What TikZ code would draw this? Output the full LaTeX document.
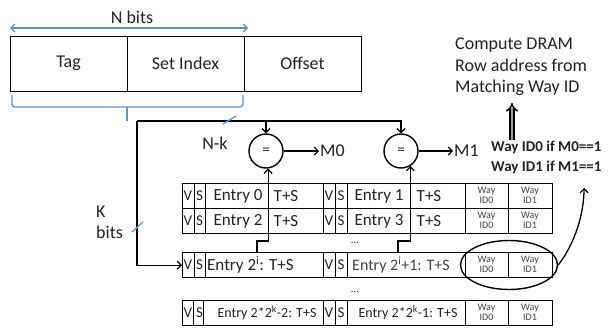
\documentclass[tikz,border=0pt]{standalone}
\usepackage{fontspec}
\setmainfont{Carlito}
\usetikzlibrary{arrows.meta,shapes.geometric}
\definecolor{bblue}{RGB}{91,150,205}
\definecolor{ink}{RGB}{35,35,35}
\newcommand{\fs}[1]{\fontsize{#1}{#1}\selectfont}
\newcommand{\fsl}[2]{\fontsize{#1}{#2}\selectfont}
\tikzset{
  every node/.style={text=ink},
  ln/.style={line width=1.3pt, draw=black},
  arr/.style={ln, -{Straight Barb[length=4pt,width=8pt,line width=1.2pt]}},
  cell/.style={draw=black, line width=1.3pt, anchor=north west, inner sep=0pt, minimum height=25pt},
  fld/.style={draw=black, line width=1.4pt, anchor=north west, inner sep=0pt, minimum height=55pt},
  cmp/.style={circle, draw=black, line width=1.4pt, minimum size=34pt, inner sep=0pt, font=\fs{15}},
  lbl/.style={inner sep=1pt, font=\fs{18}},
  etxt/.style={inner sep=0pt, font=\fs{17}},
  vs/.style={inner sep=0pt, font=\fs{15}},
  wtxt/.style={inner sep=0pt, align=center, font=\fsl{10}{10}, text=ink!85},
  blu/.style={draw=bblue, line width=1.3pt},
}
\begin{document}
\begin{tikzpicture}[x=1pt,y=-1pt]
\useasboundingbox (0,0) rectangle (608,327);

% address fields
\node[fld, minimum width=117pt] (tag) at (10,36) {};
\node[fld, minimum width=117pt] (set) at (127,36) {};
\node[fld, minimum width=117pt] (off) at (244,36) {};
\node[lbl] (tagt) at (68.5,63) {Tag};
\node[lbl] (sett) at (185.5,63) {Set Index};
\node[lbl] (offt) at (302.5,63) {Offset};

% N bits
\coordinate (nbl) at (10,28);
\coordinate (nbr) at (248,28);
\draw[blu, {Straight Barb[length=4pt,width=8pt]}-{Straight Barb[length=4pt,width=8pt]}] (nbl) -- (nbr);
\node[lbl] (nbits) at (132,17) {N bits};

% brace
\draw[blu, rounded corners=3pt] (12,95) -- (12,107) -- (243,107) -- (243,95);
\draw[blu] (127,107) -- (127,121);

% comparators
\node[cmp] (cmp0) at (266,151) {=};
\node[cmp] (cmp1) at (401,151) {=};
\node[lbl, anchor=west] (m0) at (319,151) {M0};
\node[lbl, anchor=west] (m1) at (453,151) {M1};
\draw[arr] (cmp0.east) -- (m0.west);
\draw[arr] (cmp1.east) -- (m1.west);

% table rows 0/1
\foreach \r/\y in {0/183,1/208}{
  \node[cell, minimum width=12pt] (va\r) at (182,\y) {};
  \node[cell, minimum width=11pt] (sa\r) at (194,\y) {};
  \node[cell, minimum width=118pt] (ea\r) at (205,\y) {};
  \node[cell, minimum width=12pt] (vb\r) at (323,\y) {};
  \node[cell, minimum width=12pt] (sb\r) at (335,\y) {};
  \node[cell, minimum width=118pt] (eb\r) at (347,\y) {};
  \node[cell, minimum width=43pt] (wa\r) at (465,\y) {};
  \node[cell, minimum width=44pt] (wb\r) at (508,\y) {};
}
% row i
\node[cell, minimum width=12pt] (vai) at (182,252) {};
\node[cell, minimum width=11pt] (sai) at (194,252) {};
\node[cell, minimum width=118pt] (eai) at (205,252) {};
\node[cell, minimum width=12pt] (vbi) at (323,252) {};
\node[cell, minimum width=12pt] (sbi) at (335,252) {};
\node[cell, minimum width=118pt] (ebi) at (347,252) {};
\node[cell, minimum width=43pt] (wai) at (465,252) {};
\node[cell, minimum width=44pt] (wbi) at (508,252) {};
% last row
\node[cell, minimum width=11pt] (vak) at (182,300) {};
\node[cell, minimum width=10pt] (sak) at (193,300) {};
\node[cell, minimum width=120pt] (eak) at (203,300) {};
\node[cell, minimum width=12pt] (vbk) at (323,300) {};
\node[cell, minimum width=12pt] (sbk) at (335,300) {};
\node[cell, minimum width=118pt] (ebk) at (347,300) {};
\node[cell, minimum width=43pt] (wak) at (465,300) {};
\node[cell, minimum width=44pt] (wbk) at (508,300) {};

% V / S letters and way ids
\foreach \y/\n in {195.5/0,220.5/1,264.5/i,312.5/k}{
  \node[vs] (v\n) at (188,\y) {V};
  \node[vs] (s\n) at (199.5,\y) {S};
  \node[vs] (vv\n) at (329,\y) {V};
  \node[vs] (ss\n) at (341,\y) {S};
  \node[wtxt] (id0\n) at (486.5,\y) {Way\\ID0};
  \node[wtxt] (id1\n) at (530,\y) {Way\\ID1};
}

% entry texts
\node[etxt] (e0) at (238,196) {Entry 0};
\node[etxt] (t0) at (286,196) {T+S};
\node[etxt] (e2) at (238,221) {Entry 2};
\node[etxt] (t2) at (286,221) {T+S};
\node[etxt] (e1) at (379,196) {Entry 1};
\node[etxt] (t1) at (429,196) {T+S};
\node[etxt] (e3) at (379,221) {Entry 3};
\node[etxt] (t3) at (429,221) {T+S};
\node[etxt, anchor=west] (ei) at (207,264.5) {Entry 2\textsuperscript{i}: T+S};
\node[inner sep=0pt, font=\fs{16}, anchor=west, text=ink!85] (ei1) at (352,265) {Entry 2\textsuperscript{i}+1: T+S};
\node[inner sep=0pt, font=\fs{14}] (ek2) at (267,313) {Entry 2*2\textsuperscript{k}-2: T+S};
\node[inner sep=0pt, font=\fs{14}] (ek1) at (408,313) {Entry 2*2\textsuperscript{k}-1: T+S};
\node[inner sep=0pt, font=\fs{11}] (dots1) at (355,243) {...};
\node[inner sep=0pt, font=\fs{11}] (dots2) at (355,292) {...};

% bus from address to comparators and row select
\coordinate (bus) at (137,121);
\draw[arr] (bus) |- (vai.west);
\draw[arr] (bus) -| (cmp1.north);
\draw[arr] (bus -| cmp0.north) -- (cmp0.north);

% row outputs to comparators
\coordinate (up0) at (257,252);
\coordinate (up1) at (398,252);
\draw[arr] (up0) -- ++(0,-11) -| (cmp0.-83);
\draw[arr] (up1) -- ++(0,-11) -| (cmp1.-58);

% bit-width slashes and labels
\draw[blu] (223,124) -- (236,116);
\node[lbl] (nk) at (215,143) {N-k};
\draw[blu] (132,232) -- (143,222);
\node[inner sep=1pt, anchor=west, align=left, font=\fsl{18}{21}] (kb) at (95,222) {K\\bits};

% selected ways
\node[ellipse, draw=black, line width=1.4pt, minimum width=97pt, minimum height=49pt, inner sep=0pt] (sel) at (509,265) {};

% result text
\node[inner sep=0pt, anchor=west, font=\bfseries\fs{15}] (w0) at (491,147) {Way ID0 if M0==1};
\node[inner sep=0pt, anchor=west, font=\bfseries\fs{15}] (w1) at (491,167) {Way ID1 if M1==1};
\coordinate (tip) at (584,188);
\draw[arr] (sel.east) .. controls (574,245) and (584,215) .. (tip);

\node[inner sep=0pt, anchor=west, align=left, font=\fsl{18}{21.5}] (comp) at (455,67) {Compute DRAM\\Row address from\\Matching Way ID};
\coordinate (dtail) at (512,140);
\coordinate (dhead) at (512,103);
\draw[black, line width=1.6pt, double=gray!75, double distance=2.5pt, -{Implies}] (dtail) -- (dhead);
\end{tikzpicture}
\end{document}
